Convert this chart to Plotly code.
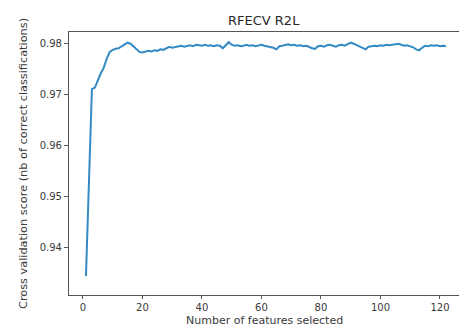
import plotly.graph_objects as go

n_features = list(range(1, 123))
cv_scores = [
    0.9343, 0.9525, 0.9710, 0.9713, 0.9728, 0.9741, 0.9752, 0.9770, 0.9783, 0.9787,
    0.9789, 0.9790, 0.9794, 0.9798, 0.9801, 0.9799, 0.9793, 0.9787, 0.9783, 0.9782,
    0.9783, 0.9785, 0.9784, 0.9786, 0.9785, 0.9788, 0.9787, 0.9790, 0.9793, 0.9791,
    0.9792, 0.9794, 0.9795, 0.9793, 0.9795, 0.9796, 0.9794, 0.9797, 0.9796, 0.9795,
    0.9797, 0.9795, 0.9796, 0.9794, 0.9796, 0.9795, 0.9790, 0.9796, 0.9802, 0.9797,
    0.9795, 0.9796, 0.9794, 0.9795, 0.9797, 0.9795, 0.9796, 0.9794, 0.9796, 0.9797,
    0.9795, 0.9794, 0.9792, 0.9791, 0.9788, 0.9794, 0.9795, 0.9797, 0.9798, 0.9796,
    0.9797, 0.9795, 0.9796, 0.9794, 0.9795, 0.9793, 0.9790, 0.9789, 0.9794, 0.9795,
    0.9793, 0.9796, 0.9797, 0.9795, 0.9793, 0.9796, 0.9797, 0.9795, 0.9798, 0.9801,
    0.9799, 0.9796, 0.9793, 0.9791, 0.9788, 0.9793, 0.9794, 0.9795, 0.9794, 0.9796,
    0.9795, 0.9797, 0.9796, 0.9797, 0.9798, 0.9799, 0.9797, 0.9795, 0.9796, 0.9794,
    0.9792, 0.9788, 0.9786, 0.9791, 0.9795, 0.9794, 0.9796, 0.9795, 0.9796, 0.9794,
    0.9795, 0.9794,
]
x_ticks = [0, 20, 40, 60, 80, 100, 120]
y_ticks = [0.94, 0.95, 0.96, 0.97, 0.98]
y_tick_labels = ["0.94", "0.95", "0.96", "0.97", "0.98"]

title_text = "RFECV R2L"
x_title = "Number of features selected"
y_title = "Cross validation score (nb of correct classifications)"

font_family = "DejaVu Sans"
text_color = "#3a3a3a"
axis_color = "#555555"

fig = go.Figure()
fig.add_trace(go.Scatter(
    x=n_features, y=cv_scores, mode="lines",
    line=dict(color="#348ac2", width=2),
    showlegend=False,
))

fig.update_layout(
    width=459, height=327,
    margin=dict(l=69, r=0, t=32, b=32),
    paper_bgcolor="white", plot_bgcolor="white",
    font=dict(family=font_family, size=10, color=text_color),
    showlegend=False,
)
fig.update_xaxes(
    range=[-4.7, 126.4], tickmode="array", tickvals=x_ticks,
    showgrid=False, zeroline=False,
    showline=True, linecolor=axis_color, linewidth=1.2, mirror=True,
    ticks="outside", ticklen=3, tickcolor=axis_color,
    tickfont=dict(size=10, color=text_color),
)
fig.update_yaxes(
    range=[0.9306, 0.9822], tickmode="array", tickvals=y_ticks, ticktext=y_tick_labels,
    showgrid=False, zeroline=False,
    showline=True, linecolor=axis_color, linewidth=1.2, mirror=False,
    ticks="outside", ticklen=4, tickcolor=axis_color,
    tickfont=dict(size=10, color=text_color),
)

fig.add_annotation(text=title_text, xref="paper", yref="paper",
                   x=(264 - 69) / 390, y=1, yshift=12, showarrow=False,
                   xanchor="center", yanchor="middle",
                   font=dict(size=13, color="#2a2a2a", family=font_family))
fig.add_annotation(text=x_title, xref="paper", yref="paper",
                   x=(264 - 69) / 390, y=0, yshift=-25, showarrow=False,
                   xanchor="center", yanchor="middle",
                   font=dict(size=11, color=text_color, family=font_family))
fig.add_annotation(text=y_title, xref="paper", yref="paper",
                   x=(23 - 69) / 390, y=(295 - 164) / 263, showarrow=False,
                   xanchor="center", yanchor="middle", textangle=-90,
                   font=dict(size=11.3, color=text_color, family=font_family))

fig.write_html("out.html")
